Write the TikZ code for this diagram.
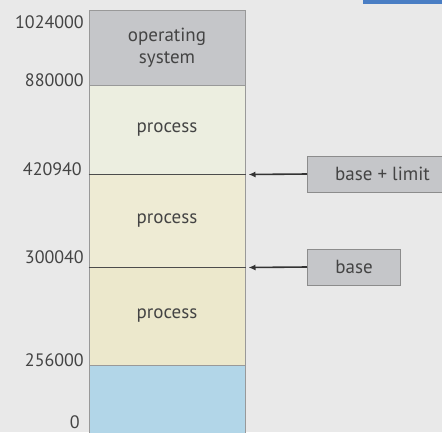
\documentclass[tikz,border=0pt]{standalone}
\usepackage{fontspec}
\setmainfont{PT Sans}
\usetikzlibrary{positioning,arrows.meta}

\definecolor{bgcol}{HTML}{E9E9E9}
\definecolor{osgray}{HTML}{C5C6C9}
\definecolor{procA}{HTML}{ECEEE0}
\definecolor{procB}{HTML}{EEEBD4}
\definecolor{procC}{HTML}{ECE8CC}
\definecolor{freeblue}{HTML}{B2D6E8}
\definecolor{barblue}{HTML}{4A7EC4}
\definecolor{ink}{HTML}{444444}

\begin{document}
\begin{tikzpicture}[x=1pt,y=-1pt]
  \tikzstyle{seg}=[draw=black!40,line width=1pt,minimum width=156pt,
  inner sep=0pt,text=ink,font=\fontsize{19}{22}\selectfont,align=center]
  \tikzstyle{addr}=[anchor=base east,inner sep=0pt,text=ink,
  font=\fontsize{18}{20}\selectfont]
  \tikzstyle{reg}=[draw=black!45,line width=1pt,fill=osgray,text=ink,
  minimum height=36pt,anchor=west,font=\fontsize{19}{20}\selectfont]
  \tikzstyle{bound}=[draw=black!70,line width=1pt]
  \tikzstyle{ptr}=[draw=black!80,line width=1.6pt,-{Latex[length=7pt,width=6pt]}]
  \fill[bgcol] (0,0) rectangle (442,432);
  \useasboundingbox (0,0) rectangle (442,432);
  \fill[barblue] (363,0) rectangle (442,4);
  % memory column
  \node[seg,fill=osgray,minimum height=75pt](os) at (167,47.5){operating\\system};
  \node[seg,fill=procA,minimum height=89pt](p1) at (167,129.5){process};
  \node[seg,fill=procB,minimum height=93pt](p2) at (167,220.5){process};
  \node[seg,fill=procC,minimum height=98pt](p3) at (167,316){process};
  \node[seg,fill=freeblue,minimum height=75pt](free) at (167,402.5){};
  \path[bound] (p1.south west) -- (p1.south east);
  \path[bound] (p2.south west) -- (p2.south east);
  % addresses
  \node[addr](a0) at (84,28){1024000};
  \node[addr](a1) at (84,86){880000};
  \node[addr](a2) at (82,175){420940};
  \node[addr](a3) at (84,263){300040};
  \node[addr](a4) at (84,366){256000};
  \node[addr](a5) at (80,428){0};
  % registers
  \node[reg,minimum width=150pt](lim) at (307,174){base + limit};
  \node[reg,minimum width=93pt](base) at (307,267){base};
  \path[ptr] (lim.west) -- ([xshift=3pt]p1.south east);
  \path[ptr] (base.west) -- ([xshift=3pt]p2.south east);
\end{tikzpicture}
\end{document}
